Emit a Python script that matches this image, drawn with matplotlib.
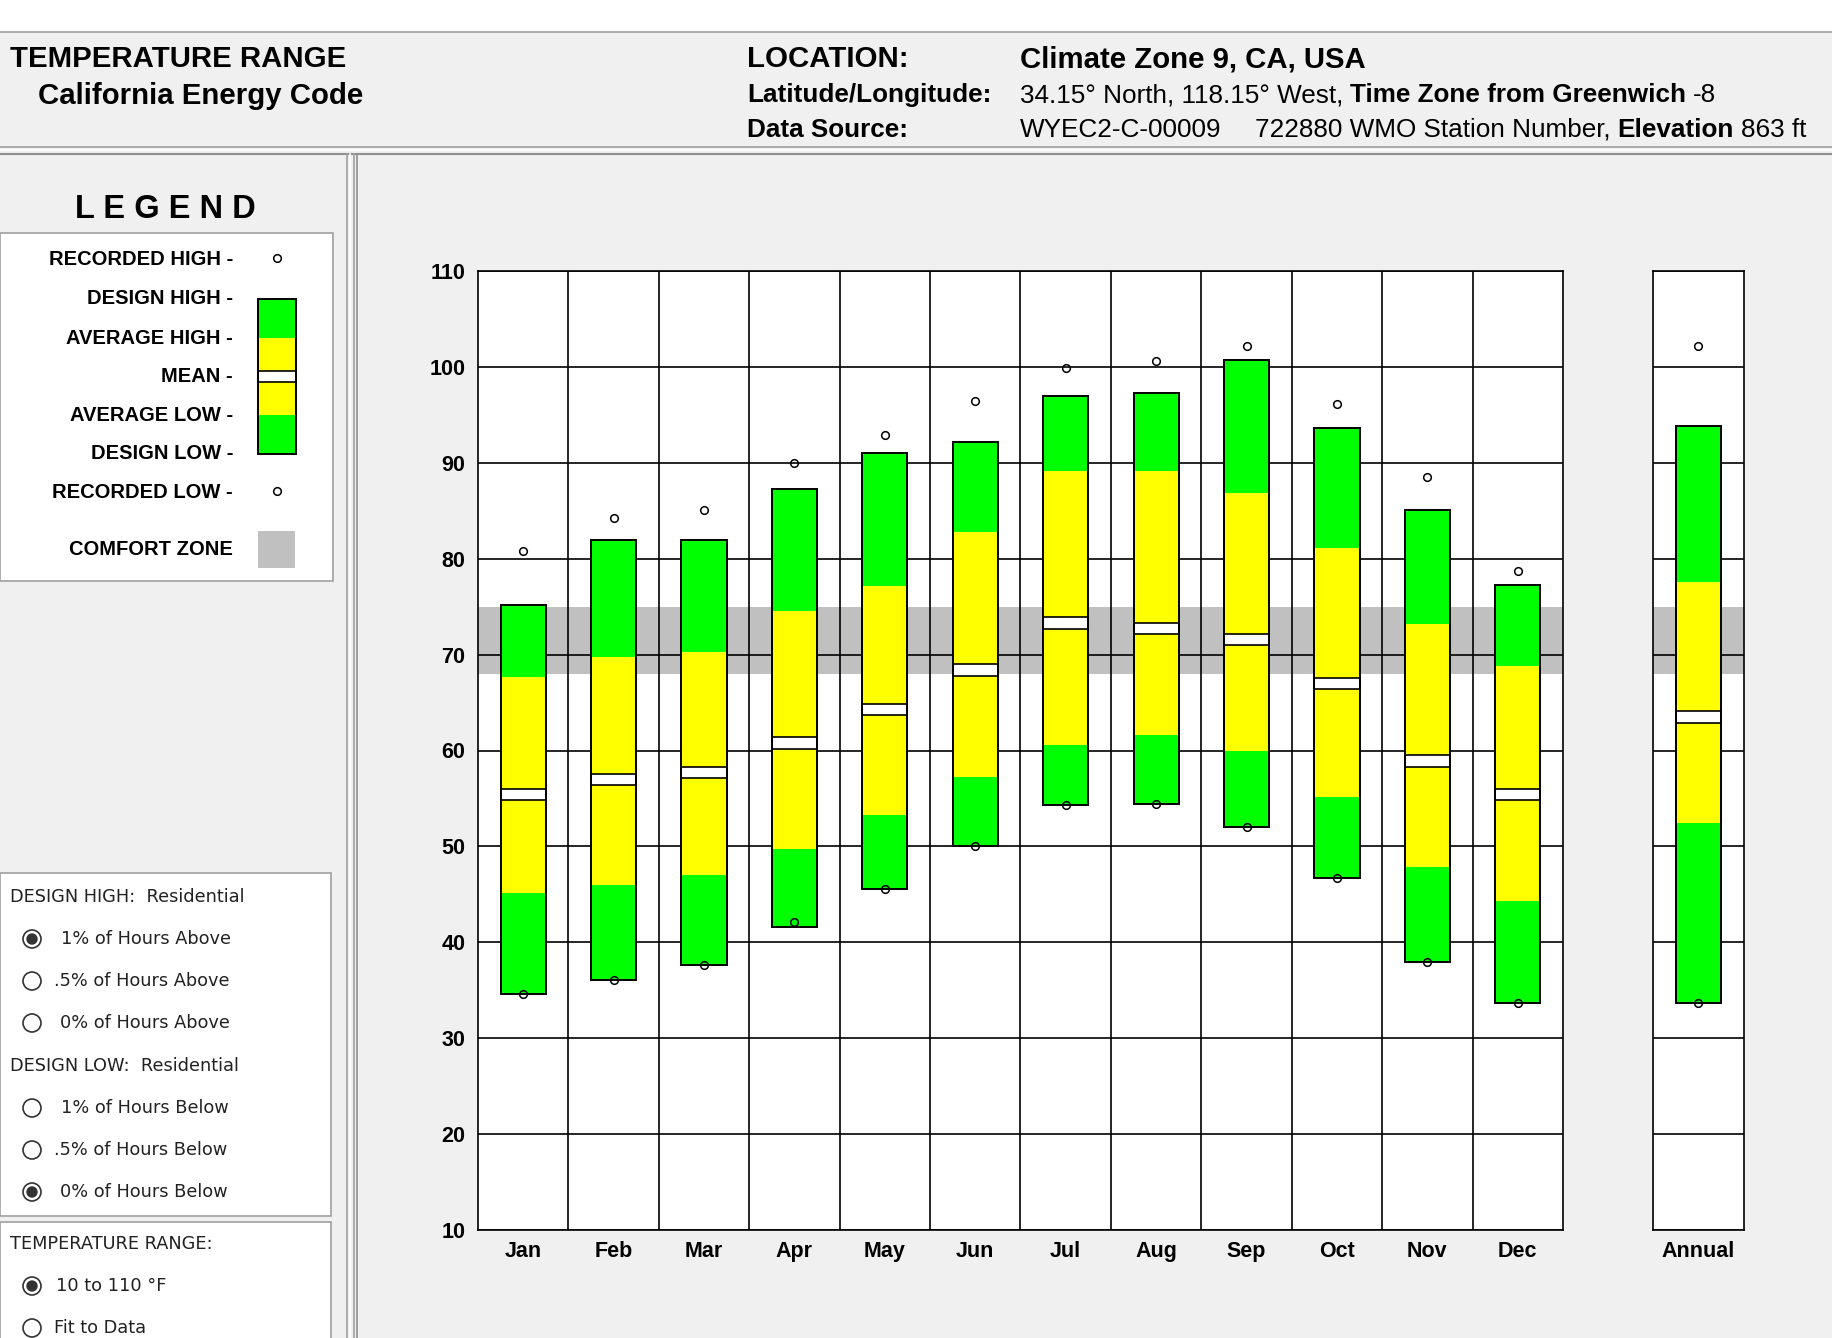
import matplotlib
matplotlib.use('Agg')
import matplotlib.pyplot as plt
from matplotlib.patches import Rectangle, Circle

# monthly temperature data (deg F)
months = ['Jan', 'Feb', 'Mar', 'Apr', 'May', 'Jun', 'Jul', 'Aug', 'Sep', 'Oct', 'Nov', 'Dec']
rec_high = [80.8, 84.2, 85.1, 90.0, 92.9, 96.4, 99.9, 100.6, 102.2, 96.1, 88.5, 78.7]
design_high = [75.2, 81.9, 81.9, 87.3, 91.0, 92.2, 97.0, 97.3, 100.7, 93.6, 85.1, 77.3]
avg_high = [67.7, 69.8, 70.3, 74.5, 77.2, 82.8, 89.1, 89.1, 86.8, 81.1, 73.2, 68.8]
mean_temp = [55.4, 57.0, 57.7, 60.8, 64.3, 68.4, 73.3, 72.7, 71.6, 67.0, 58.9, 55.4]
avg_low = [45.1, 46.0, 47.0, 49.7, 53.3, 57.2, 60.6, 61.6, 59.9, 55.1, 47.9, 44.3]
design_low = [34.6, 36.1, 37.6, 41.6, 45.6, 50.0, 54.3, 54.4, 52.0, 46.7, 37.9, 33.7]
rec_low = [34.6, 36.1, 37.6, 42.1, 45.6, 50.0, 54.3, 54.4, 52.0, 46.7, 37.9, 33.7]

annual_label = ['Annual']
annual_rec_high = [102.2]
annual_design_high = [93.8]
annual_avg_high = [77.6]
annual_mean = [63.5]
annual_avg_low = [52.4]
annual_design_low = [33.7]
annual_rec_low = [33.7]

comfort_zone = (68, 75)
y_ticks = list(range(10, 111, 10))

GREEN = '#00ff00'
YELLOW = '#ffff00'
GRAY = '#c0c0c0'
PANEL = '#f0f0f0'
EDGE = '#a0a0a0'

plt.rcParams['font.family'] = ['Liberation Sans', 'DejaVu Sans']

W, H = 1833, 1338
fig = plt.figure(figsize=(W / 100, H / 100), dpi=100, facecolor=PANEL)

# background axes in pixel units for the panels and texts
bg = fig.add_axes([0, 0, 1, 1])
bg.set_xlim(0, W)
bg.set_ylim(H, 0)
bg.axis('off')
bg.set_zorder(0)

bg.add_patch(Rectangle((0, 0), W, 32, color='white', lw=0))
bg.plot([0, W], [32, 32], color=EDGE, lw=1.2)
bg.plot([0, W], [147, 147], color=EDGE, lw=1.2)
bg.plot([0, W], [150, 150], color='white', lw=1.2)
bg.plot([0, W], [154, 154], color='#909090', lw=1.5)
for xv, c in [(347, EDGE), (350, 'white'), (354, EDGE), (357, '#909090')]:
    bg.plot([xv, xv], [154, H], color=c, lw=1.2)


def line_parts(x, y, parts, size):
    prev = None
    for s, w, gap in parts:
        if prev is None:
            prev = bg.text(x, y, s, fontsize=size, fontweight=w, va='baseline', ha='left')
        else:
            prev = bg.annotate(s, xy=(1, y), xycoords=(prev, 'data'), xytext=(gap, 0),
                               textcoords='offset points', fontsize=size, fontweight=w,
                               va='baseline', ha='left')


# header
bg.text(10, 67, 'TEMPERATURE RANGE', fontsize=21.2, fontweight='bold', va='baseline')
bg.text(38, 104, 'California Energy Code', fontsize=21.2, fontweight='bold', va='baseline')
bg.text(747, 67, 'LOCATION:', fontsize=21.2, fontweight='bold', va='baseline')
bg.text(1020, 67, 'Climate Zone 9, CA, USA', fontsize=21.2, fontweight='bold', va='baseline')
bg.text(747, 102, 'Latitude/Longitude:', fontsize=18.8, fontweight='bold', va='baseline')
bg.text(747, 137, 'Data Source:', fontsize=18.8, fontweight='bold', va='baseline')
line_parts(1020, 102, [('34.15° North, 118.15° West,', 'normal', 0),
                       ('Time Zone from Greenwich', 'bold', 5),
                       ('-8', 'normal', 5)], 18.8)
line_parts(1020, 137, [('WYEC2-C-00009', 'normal', 0),
                       ('722880 WMO Station Number,', 'normal', 24),
                       ('Elevation', 'bold', 5),
                       ('863 ft', 'normal', 5)], 18.8)

# legend panel
bg.text(165, 209, 'L E G E N D', fontsize=23.5, fontweight='heavy', ha='center', va='center')
bg.add_patch(Rectangle((0, 233), 333, 348, facecolor='white', edgecolor=EDGE, lw=1.2))
legend_rows = [('RECORDED HIGH -', 258), ('DESIGN HIGH -', 297), ('AVERAGE HIGH -', 337),
               ('MEAN -', 375), ('AVERAGE LOW -', 414), ('DESIGN LOW -', 452),
               ('RECORDED LOW -', 491), ('COMFORT ZONE', 548)]
for lab, yy in legend_rows:
    bg.text(233, yy + 7, lab, fontsize=14.5, fontweight='bold', ha='right', va='baseline')
bg.plot([277, 277], [258, 491], 'o', ls='none', mfc='none', mec='black', ms=5.5, mew=1.1)
for y0, y1, c in [(299, 338, GREEN), (338, 371, YELLOW), (382, 415, YELLOW), (415, 454, GREEN)]:
    bg.add_patch(Rectangle((258, y0), 38, y1 - y0, color=c, lw=0))
bg.add_patch(Rectangle((258, 371), 38, 11, facecolor='white', edgecolor='black', lw=1.2))
bg.add_patch(Rectangle((258, 299), 38, 155, fill=False, edgecolor='black', lw=1.4))
bg.add_patch(Rectangle((258, 531), 37, 37, color=GRAY, lw=0))

# option panels
bg.add_patch(Rectangle((0, 873), 331, 343, facecolor='white', edgecolor=EDGE, lw=1.2))
bg.add_patch(Rectangle((0, 1222), 331, 130, facecolor='white', edgecolor=EDGE, lw=1.2))
opt = dict(fontsize=12.8, family='DejaVu Sans', va='center', color='#222222')
bg.text(10, 897, 'DESIGN HIGH:  Residential', **opt)
bg.text(10, 1066, 'DESIGN LOW:  Residential', **opt)
bg.text(10, 1244, 'TEMPERATURE RANGE:', **opt)
radios = [('1% of Hours Above', 939, True, 61), ('.5% of Hours Above', 981, False, 54),
          ('0% of Hours Above', 1023, False, 60), ('1% of Hours Below', 1108, False, 61),
          ('.5% of Hours Below', 1150, False, 54), ('0% of Hours Below', 1192, True, 60),
          ('10 to 110 °F', 1286, True, 56), ('Fit to Data', 1328, False, 54)]
for lab, yy, sel, tx in radios:
    bg.add_patch(Circle((32, yy), 9, fill=False, edgecolor='#333333', lw=1.2))
    if sel:
        bg.add_patch(Circle((32, yy), 5, color='#333333'))
    bg.text(tx, yy, lab, **opt)


def draw_bars(ax, xs, dl, al, mn, ah, dh, rh, rl):
    w = 0.5
    lo_green = [a - d for a, d in zip(al, dl)]
    lo_yel = [m - 0.6 - a for m, a in zip(mn, al)]
    hi_yel = [a - m - 0.6 for a, m in zip(ah, mn)]
    hi_green = [d - a for d, a in zip(dh, ah)]
    ax.bar(xs, lo_green, bottom=dl, width=w, color=GREEN, lw=0, zorder=2)
    ax.bar(xs, lo_yel, bottom=al, width=w, color=YELLOW, lw=0, zorder=2)
    ax.bar(xs, [1.2] * len(xs), bottom=[m - 0.6 for m in mn], width=w, color='white',
           edgecolor='black', lw=1.2, zorder=2.5)
    ax.bar(xs, hi_yel, bottom=[m + 0.6 for m in mn], width=w, color=YELLOW, lw=0, zorder=2)
    ax.bar(xs, hi_green, bottom=ah, width=w, color=GREEN, lw=0, zorder=2)
    ax.bar(xs, [d - l for d, l in zip(dh, dl)], bottom=dl, width=w, fill=False,
           edgecolor='black', lw=1.4, zorder=3)
    ax.plot(xs, rh, 'o', ls='none', mfc='none', mec='black', ms=5.5, mew=1.1, zorder=4)
    ax.plot(xs, rl, 'o', ls='none', mfc='none', mec='black', ms=5.5, mew=1.1, zorder=4)


def style_axes(ax, n, show_y):
    ax.set_xlim(-0.5, n - 0.5)
    ax.set_ylim(10, 110)
    ax.axhspan(comfort_zone[0], comfort_zone[1], color=GRAY, lw=0, zorder=0.2)
    ax.set_yticks(y_ticks)
    ax.set_xticks([i + 0.5 for i in range(n - 1)], minor=True)
    ax.set_axisbelow(True)
    ax.grid(axis='y', color='black', lw=1.2)
    ax.grid(axis='x', which='minor', color='black', lw=1.2)
    ax.grid(axis='x', which='major', visible=False)
    ax.tick_params(which='both', length=0)
    ax.tick_params(axis='y', pad=9, labelleft=show_y)
    ax.tick_params(axis='x', pad=8)
    for lab in ax.get_yticklabels() + ax.get_xticklabels():
        lab.set_fontweight('bold')
        lab.set_fontsize(15.5)
    for sp in ax.spines.values():
        sp.set_color('black')
        sp.set_linewidth(1.2)
    ax.set_zorder(1)


bottom = (H - 1230) / H
height = (1230 - 271) / H

ax = fig.add_axes([478 / W, bottom, (1563 - 478) / W, height])
xs = list(range(len(months)))
draw_bars(ax, xs, design_low, avg_low, mean_temp, avg_high, design_high, rec_high, rec_low)
ax.set_xticks(xs)
ax.set_xticklabels(months)
style_axes(ax, len(months), True)

ax2 = fig.add_axes([1653 / W, bottom, 91 / W, height])
draw_bars(ax2, [0], annual_design_low, annual_avg_low, annual_mean, annual_avg_high,
          annual_design_high, annual_rec_high, annual_rec_low)
ax2.set_xticks([0])
ax2.set_xticklabels(annual_label)
style_axes(ax2, 1, False)

fig.savefig('out.png', dpi=100, facecolor=PANEL)
